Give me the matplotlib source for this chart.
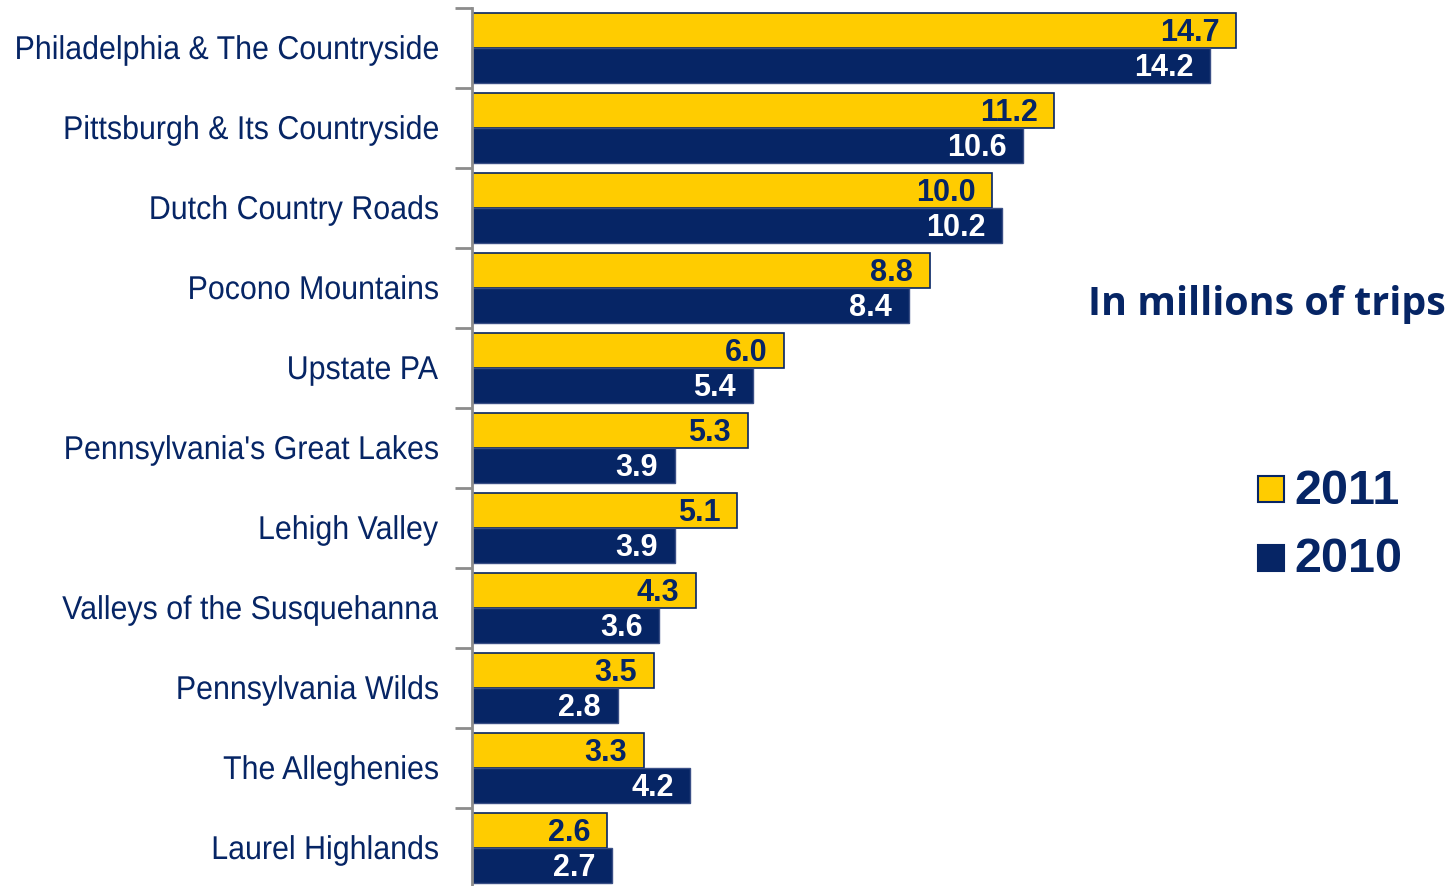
import numpy as np
import matplotlib.pyplot as plt
from matplotlib.patches import Rectangle, PathPatch
from matplotlib.textpath import TextPath
from matplotlib.font_manager import FontProperties
from matplotlib.transforms import Affine2D, IdentityTransform

regions = ["Philadelphia & The Countryside", "Pittsburgh & Its Countryside",
           "Dutch Country Roads", "Pocono Mountains", "Upstate PA",
           "Pennsylvania's Great Lakes", "Lehigh Valley",
           "Valleys of the Susquehanna", "Pennsylvania Wilds",
           "The Alleghenies", "Laurel Highlands"]
trips_2011 = [14.7, 11.2, 10.0, 8.8, 6.0, 5.3, 5.1, 4.3, 3.5, 3.3, 2.6]
trips_2010 = [14.2, 10.6, 10.2, 8.4, 5.4, 3.9, 3.9, 3.6, 2.8, 4.2, 2.7]

NAVY = "#062565"
GOLD = "#FFCC00"

W, H = 1456, 886
fig = plt.figure(figsize=(W / 100, H / 100), dpi=100)
ax = fig.add_axes([472 / W, 0, 1 - 472 / W, 1 - 8 / H])

y = np.arange(len(regions))
bh = 0.44
ax.barh(y - 0.22, trips_2011, height=bh, color=GOLD, edgecolor=NAVY, linewidth=1.2)
ax.barh(y + 0.22, trips_2010, height=bh, color=NAVY, edgecolor="#3a4f86", linewidth=1.0)

for i in range(len(regions)):
    ax.annotate(f"{trips_2011[i]:.1f}", (trips_2011[i], y[i] - 0.22), xytext=(-12, -2),
                textcoords="offset points", ha="right", va="center",
                fontsize=22, fontweight="bold", color=NAVY, family="Liberation Sans")
    ax.annotate(f"{trips_2010[i]:.1f}", (trips_2010[i], y[i] + 0.22), xytext=(-12, -2),
                textcoords="offset points", ha="right", va="center",
                fontsize=22, fontweight="bold", color="white", family="Liberation Sans")

ax.set_xlim(0, (W - 472) / 52)
ax.set_ylim(10.475, -0.5)

for s in ["top", "right", "bottom"]:
    ax.spines[s].set_visible(False)
ax.spines["left"].set_color("#8c8c8c")
ax.spines["left"].set_linewidth(2)
ax.set_xticks([])

ax.set_yticks(y)
ax.set_yticklabels([])
ax.tick_params(axis="y", which="major", length=0)
ax.set_yticks(np.arange(len(regions)) - 0.5, minor=True)
ax.tick_params(axis="y", which="minor", length=12, width=2, color="#8c8c8c")

# narrow category labels: Liberation Sans squeezed horizontally
prop = FontProperties(family="Liberation Sans")
em, squeeze = 33, 0.92
for i, name in enumerate(regions):
    tp = TextPath((0, 0), name, size=em, prop=prop)
    ext = tp.get_extents()
    cy = 8 + 80 * i + 40
    baseline = H - (cy + 11)
    tr = Affine2D().scale(squeeze, 1).translate(438 - ext.x1 * squeeze, baseline)
    fig.patches.append(PathPatch(tr.transform_path(tp), transform=IdentityTransform(),
                                 facecolor=NAVY, edgecolor="none"))

fig.text(1088 / W, 1 - 304 / H, "In millions of trips", fontsize=28.4, fontweight="bold",
         color=NAVY, family="Open Sans", ha="left", va="center")

# legend squares with labels
for yy, col, lab in [(489, GOLD, "2011"), (558, NAVY, "2010")]:
    fig.patches.append(Rectangle((1258 / W, 1 - (yy + 13) / H), 26 / W, 26 / H,
                                 transform=fig.transFigure, facecolor=col,
                                 edgecolor=NAVY, linewidth=1.5))
    fig.text(1294 / W, 1 - (yy + 2) / H, lab, fontsize=35, fontweight="bold",
             color=NAVY, family="Liberation Sans", ha="left", va="center")

fig.savefig("out.png", dpi=100)
